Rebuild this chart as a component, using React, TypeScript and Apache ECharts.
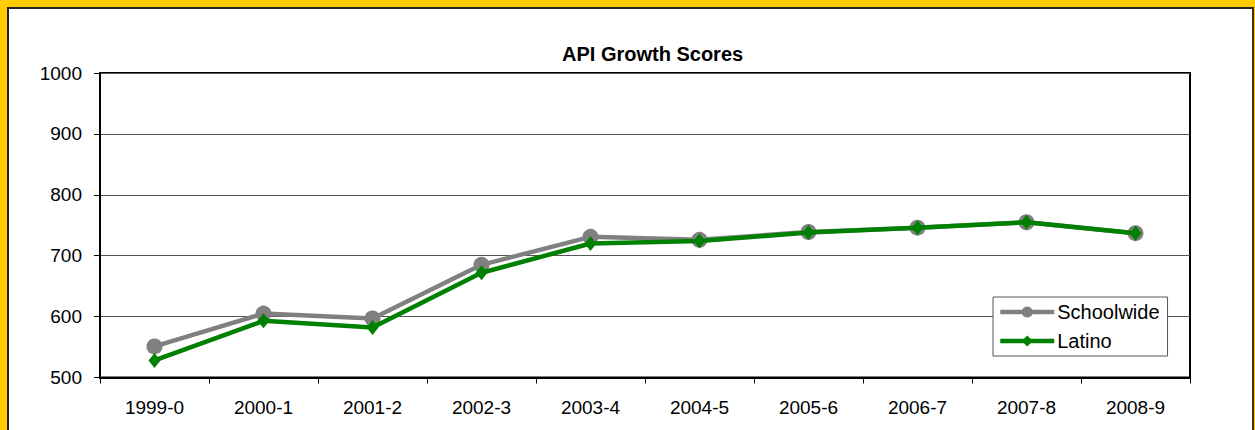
import React, { useEffect, useRef } from "react";
import * as echarts from "echarts";

const categories = ["1999-0", "2000-1", "2001-2", "2002-3", "2003-4", "2004-5", "2005-6", "2006-7", "2007-8", "2008-9"];
const schoolwide = [551, 605, 597, 685, 731, 726, 739, 746, 755, 737];
const latino = [528, 593, 582, 672, 720, 724, 738, 746, 755, 737];
const yMin = 500;
const yMax = 1000;
const yStep = 100;

const FONT = "'Liberation Sans', Arial, Helvetica, sans-serif";

export default function App() {
  const ref = useRef<HTMLDivElement>(null);
  useEffect(() => {
    if (!ref.current) return;
    const chart = echarts.init(ref.current, undefined, { renderer: "svg" });
    chart.setOption({
      animation: false,
      backgroundColor: "transparent",
      textStyle: { fontFamily: FONT },
      title: {
        text: "API Growth Scores",
        left: 557,
        top: 39,
        textStyle: { fontFamily: FONT, fontSize: 20, fontWeight: "bold", color: "#000" },
      },
      grid: {
        left: 100,
        top: 73,
        width: 1090,
        height: 304.5,
        show: true,
        borderColor: "#000",
        borderWidth: 2,
        backgroundColor: "transparent",
      },
      legend: {
        orient: "vertical",
        left: 993,
        top: 297,
        padding: [5, 8, 5, 5],
        backgroundColor: "#fff",
        borderColor: "#555",
        borderWidth: 1,
        itemWidth: 54,
        itemHeight: 14,
        itemGap: 9,
        textStyle: { fontFamily: FONT, fontSize: 20, color: "#000", padding: [0, 0, 0, -2] },
        data: [
          { name: "Schoolwide", lineStyle: { width: 4.5, color: "#808080" } },
          { name: "Latino", lineStyle: { width: 4.5, color: "#008000" } },
        ],
      },
      xAxis: {
        type: "category",
        data: categories,
        boundaryGap: true,
        axisLine: { show: true, lineStyle: { color: "#000", width: 2 } },
        axisTick: { show: true, length: 6, lineStyle: { color: "#000", width: 1 } },
        axisLabel: { fontFamily: FONT, fontSize: 19, color: "#000", margin: 20 },
        splitLine: { show: false },
      },
      yAxis: {
        type: "value",
        min: yMin,
        max: yMax,
        interval: yStep,
        axisLine: { show: true, lineStyle: { color: "#000", width: 2 } },
        axisTick: { show: true, length: 6, lineStyle: { color: "#000", width: 1 } },
        axisLabel: { fontFamily: FONT, fontSize: 19, color: "#000", margin: 18, formatter: (v: number) => String(v) },
        splitLine: { show: true, lineStyle: { color: "#555", width: 1 } },
      },
      series: [
        {
          name: "Schoolwide",
          type: "line",
          data: schoolwide,
          symbol: "circle",
          symbolSize: 16,
          lineStyle: { color: "#808080", width: 4.5 },
          itemStyle: { color: "#808080" },
          z: 2,
        },
        {
          name: "Latino",
          type: "line",
          data: latino,
          symbol: "diamond",
          symbolSize: [12, 15],
          lineStyle: { color: "#008000", width: 4.5 },
          itemStyle: { color: "#008000" },
          z: 3,
        },
      ],
    });
    return () => chart.dispose();
  }, []);

  return (
    <div style={{ position: "fixed", left: 0, top: 0, width: 1255, height: 430, background: "#FFCC00", overflow: "hidden" }}>
      <div
        style={{
          position: "absolute",
          left: 7,
          top: 7,
          width: 1243,
          height: 460,
          background: "#fff",
          borderLeft: "2px solid #222",
          borderTop: "2px solid #222",
          borderRight: "2px solid #3a3310",
        }}
      />
      <div ref={ref} style={{ position: "absolute", left: 0, top: 0, width: 1255, height: 430 }} />
    </div>
  );
}
